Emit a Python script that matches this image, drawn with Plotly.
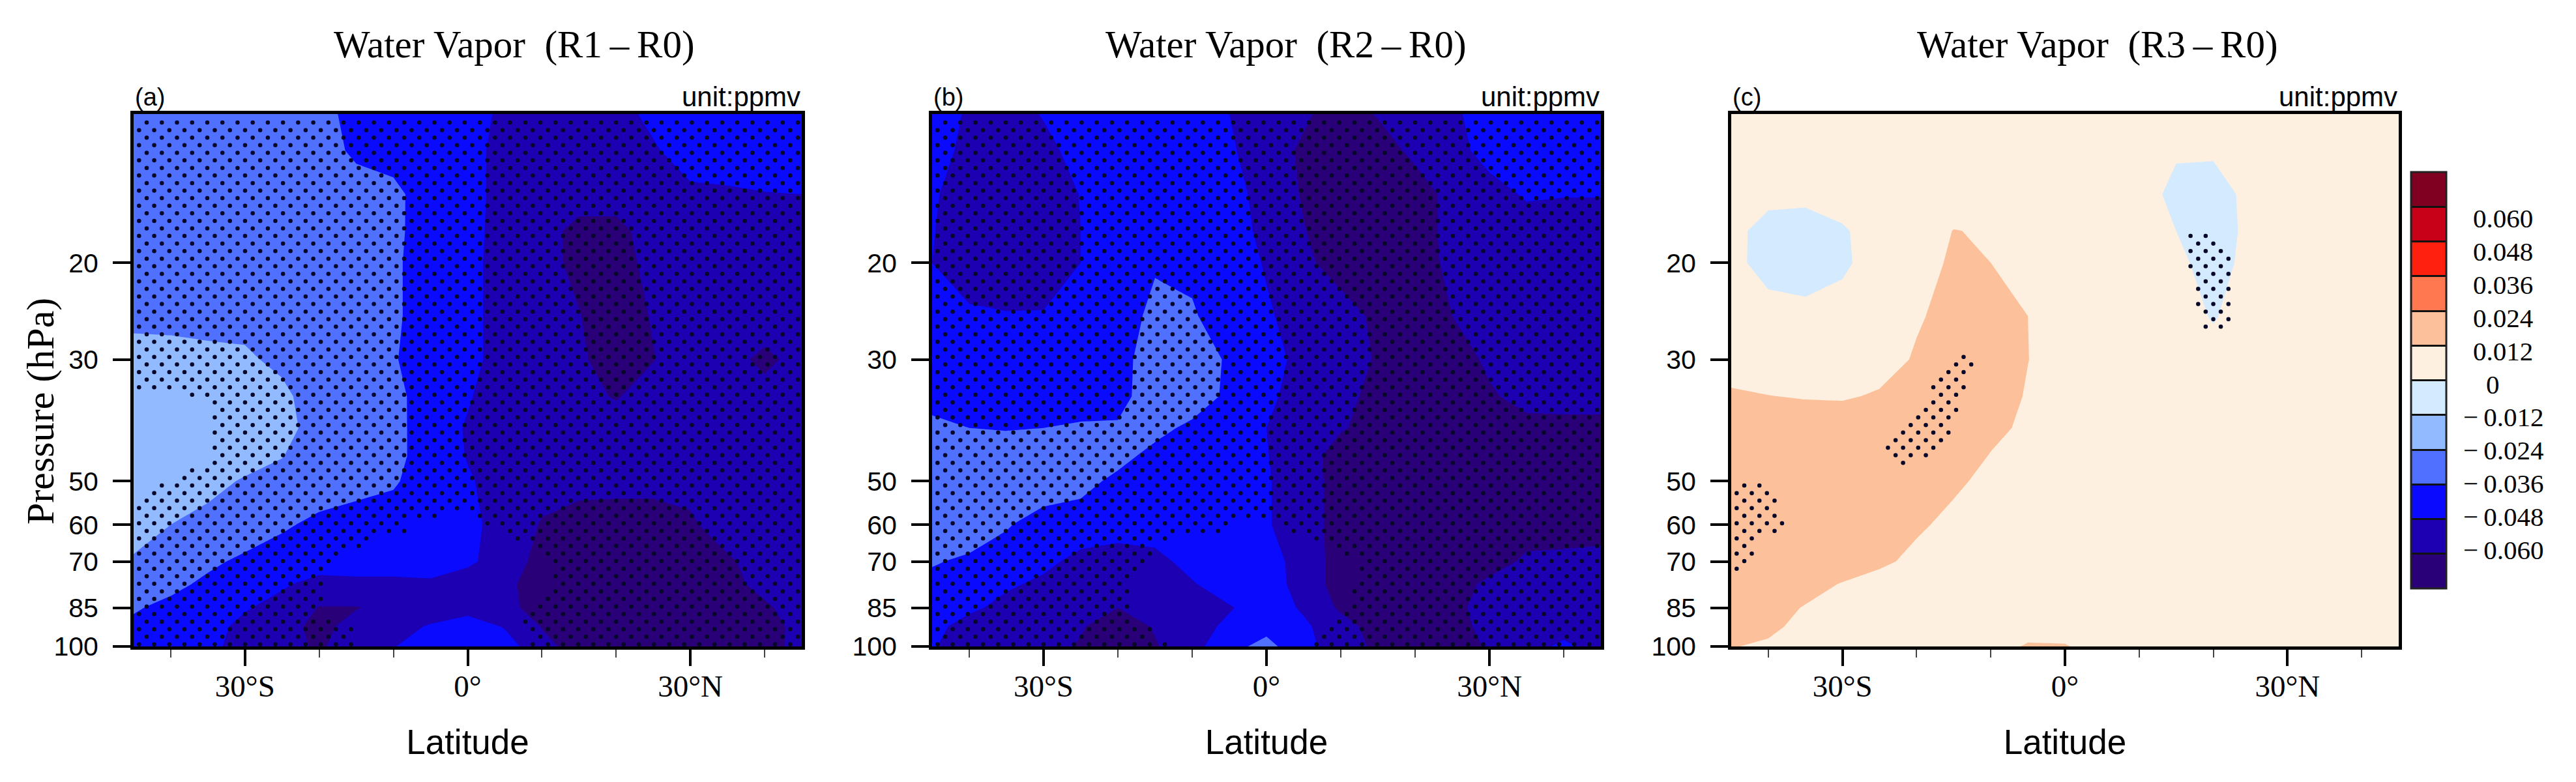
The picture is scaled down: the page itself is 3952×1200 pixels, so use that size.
import math
import numpy as np
import plotly.graph_objects as go

W, H = 3952, 1200

lat = [-45, -40, -35, -30, -25, -20, -15, -10, -5, 0, 5, 10, 15, 20, 25, 30, 35, 40, 45]
lev = [10.7, 12.5, 15, 17.5, 20, 25, 30, 35, 40, 45, 50, 60, 70, 77, 85, 92, 100]

# water vapor differences in 10^-3 ppmv, rows follow lev, columns follow lat
z_r1 = [
    [-30, -30, -30, -30, -30, -30, -42, -42, -42, -40, -52, -54, -54, -55, -43, -42, -42, -42, -42],
    [-30, -30, -30, -30, -30, -28, -39.4, -42, -44, -42, -54, -54, -54, -54, -50.4, -38.4, -40, -40, -40],
    [-28, -28, -28, -28, -28, -28, -28, -32.2, -44, -42, -54, -54, -54, -54, -54, -52, -50, -48.5, -48],
    [-28, -28, -28, -28, -28, -28, -28, -32.8, -43, -42.5, -54.5, -55, -64, -64, -54, -54, -54, -54, -54],
    [-28, -28, -28, -28, -28, -28, -28, -33, -45, -43, -55, -56, -63, -68, -54, -54, -54, -55, -55],
    [-28, -28, -28, -28, -28, -28, -28, -33, -45, -43, -55, -55, -59.5, -67, -59, -54, -54, -50, -54],
    [-18, -19, -21, -22, -27, -30, -30, -34.5, -46, -43, -55, -55, -57, -69, -60.5, -54, -54, -64, -54],
    [-16, -16, -16, -16, -21, -31, -30, -32, -43, -47, -54, -54, -56, -61, -54, -54, -54, -54, -54],
    [-14, -15, -16, -18, -20, -29, -30, -32.5, -42, -49, -54, -54, -54, -54, -54, -54, -54, -54, -54],
    [-14, -15, -17, -20, -23.5, -32, -30, -32.5, -42, -48.5, -54, -54, -54, -54, -54, -54, -54, -54, -54],
    [-16, -18, -21, -25, -29, -30, -31, -34.5, -43, -47, -52, -55, -56, -56, -56, -56, -55, -54, -54],
    [-20, -24, -27, -30, -34.5, -38.5, -42, -42, -42, -46, -51, -61, -65, -66, -66, -62, -53, -54, -54],
    [-25, -29, -34, -38, -41, -42, -42, -42, -42, -46.5, -52, -65, -68, -68, -68, -68, -62, -54, -54],
    [-30, -33.5, -38, -42, -46.5, -52, -51, -51, -50, -52, -57, -66, -68, -68, -68, -68, -64, -56, -54],
    [-35, -38.5, -42, -47, -52, -60.5, -60.5, -57, -54, -54, -56.5, -65, -68, -68, -68, -68, -68, -62, -54],
    [-38, -40, -44, -51, -56, -63, -56, -52, -47, -40, -49, -60.5, -68, -68, -68, -68, -68, -65, -56],
    [-42, -42, -46, -51, -55, -62, -52, -48.5, -42, -38, -42, -57, -64, -66, -66, -66, -66, -66, -55],
]
z_r2 = [
    [-40, -50, -54, -47, -42, -42, -42, -42, -48, -53, -58, -66, -59, -54, -51, -40, -38, -38, -38],
    [-42, -52, -56, -52, -43, -42, -42, -42, -46.5, -54, -62, -66, -66, -57, -53, -43, -40, -40, -40],
    [-46, -56, -58, -56, -47.5, -42, -42, -42, -43, -53, -61, -66, -66, -66, -56, -53, -46.5, -47.5, -47.5],
    [-47, -58, -58, -56, -48, -42, -40, -42, -42, -51.5, -59.5, -66, -68, -66, -56, -54, -54, -53, -53],
    [-48, -58, -58, -56, -48, -42, -37, -38, -42, -49, -58, -64, -66, -68, -56, -54, -54, -54, -54],
    [-43, -45, -47, -47, -45, -41, -33.5, -35, -41, -46.5, -53, -56, -62, -68, -60, -54, -54, -54, -54],
    [-42, -42, -42, -42, -42, -39.5, -31, -28, -38, -43, -52, -55, -61, -68, -68, -57, -54, -54, -54],
    [-39, -39, -40, -40, -40, -39, -31, -28, -39, -45.5, -53, -57, -63, -68, -68, -62, -55, -54, -54],
    [-34, -36, -37, -36, -35, -35, -32, -39, -42, -48, -52, -59, -64, -68, -68, -66, -64.5, -64.5, -64.5],
    [-28, -28, -27, -26, -27, -32, -40, -42, -42, -47.5, -55, -65, -68, -68, -68, -68, -68, -68, -68],
    [-27, -28, -28, -29, -32, -39, -42, -42, -42, -47, -54, -65, -68, -68, -68, -68, -68, -68, -68],
    [-28, -29, -35, -41, -42, -42, -42, -42, -42, -47, -54, -65, -68, -68, -68, -68, -68, -68, -68],
    [-35, -38, -41, -45.5, -51, -54, -51.5, -44, -42, -43, -53, -65, -68, -68, -68, -68, -57, -56, -54],
    [-39, -41, -46.5, -50, -54, -54, -52, -49, -42, -42, -53, -65, -68, -68, -68, -56, -54, -54, -54],
    [-42, -46, -51, -54, -56, -60, -57, -54, -49, -42, -49.5, -62, -68, -68, -64, -54, -54, -54, -54],
    [-45, -52, -54, -56, -59, -66, -59, -53, -45.5, -40, -46, -55, -65, -68, -66, -55, -54, -52, -54],
    [-47, -54, -55, -56, -61, -66, -61, -52, -40, -32, -45, -53, -63, -68, -68, -58, -52, -46, -52],
]
z_r3 = [
    [6, 6, 6, 6, 6, 6, 6, 6, 6, 6, 6, 6, 6, 6, 6, 6, 6, 6, 6],
    [6, 6, 6, 6, 6, 6, 6, 6, 6, 6, 6, 8, 2.5, 2.5, 6, 6, 6, 6, 6],
    [6, 4, 4, 4, 6, 6, 6, 6, 6, 6, 6, 10, -6, -8, 5, 6, 6, 6, 6],
    [4, -5, -7, -1, 4, 6, 12.3, 11, 6, 6, 6, 8, 0, -8, 4, 6, 6, 6, 6],
    [3, -4, -6, -1.5, 4, 8, 13.5, 12, 7, 6, 6, 7, 3.5, -6, 4.5, 6, 6, 6, 6],
    [6, 4, 3.4, 3.4, 6, 11, 15, 15, 12, 6, 6, 6, 6, -1, 6, 6, 6, 6, 6],
    [6, 6, 6, 7, 8, 13, 18, 18, 12.2, 6, 6, 6, 6, 4.4, 6, 6, 6, 6, 6],
    [13.8, 12.2, 11.3, 11, 13, 15, 20, 18, 11, 6, 6, 6, 6, 6, 6, 6, 6, 6, 6],
    [18, 18, 18, 18, 18, 18, 18, 14.6, 10, 6, 6, 6, 6, 6, 6, 6, 6, 6, 6],
    [18, 18, 18, 18, 18, 18, 17, 11.5, 8, 6, 6, 6, 6, 6, 6, 6, 6, 6, 6],
    [18, 18, 18, 18, 18, 17, 13.7, 9.5, 7, 6, 6, 6, 6, 6, 6, 6, 6, 6, 6],
    [18, 18, 18, 18, 17, 13.5, 9.5, 7, 6, 6, 6, 6, 6, 6, 6, 6, 6, 6, 6],
    [18, 18, 18, 17, 14, 9.5, 7, 6, 6, 6, 6, 6, 6, 6, 6, 6, 6, 6, 6],
    [18, 17, 15, 11.5, 8, 6, 6, 6, 6, 6, 6, 6, 6, 6, 6, 6, 6, 6, 6],
    [17, 15, 11.5, 8, 6, 6, 6, 6, 6, 6, 6, 6, 6, 6, 6, 6, 6, 6, 6],
    [16, 13.5, 10, 7, 6, 6, 6, 6, 6, 6, 6, 6, 6, 6, 6, 6, 6, 6, 6],
    [12.3, 11, 8, 6, 6, 6, 6, 6, 13.5, 13, 6, 6, 6, 6, 6, 6, 6, 6, 6],
]

levels = [-0.060, -0.048, -0.036, -0.024, -0.012, 0, 0.012, 0.024, 0.036, 0.048, 0.060]
band_colors = ["#290077", "#1c00b2", "#0a0aff", "#5070ff", "#92bbff", "#d4eaff",
               "#fdf0e0", "#fcc09a", "#ff7850", "#ff2010", "#c80018", "#800022"]
level_labels = ["0.060", "0.048", "0.036", "0.024", "0.012", "0",
                "\u2212\u20090.012", "\u2212\u20090.024", "\u2212\u20090.036", "\u2212\u20090.048", "\u2212\u20090.060"]

# stippling: outlines (lat, hPa) of the areas without significance in R1, R2 ...
hole_r1 = [
    [(-46, 34.5), (-39.1, 34.7), (-35.6, 35.3), (-35.1, 36.9), (-34.7, 40.3), (-34.9, 45), (-36.7, 47.3),
     (-39.7, 49.3), (-42.4, 50.9), (-44.4, 55.2), (-46, 57)],
    [(-1, 57), (-7.4, 59.2), (-8.5, 62), (-13.6, 63.4), (-14.4, 65.6), (-17.6, 67.8), (-19.4, 72.2), (-19.7, 85),
     (-20.2, 88.7), (-15, 93.3), (-15, 101), (8.4, 101), (7.2, 90), (9, 85), (10.8, 78), (11.6, 70), (7.9, 64.7),
     (3.7, 61.3), (-0.4, 57.5)],
]
hole_r2 = [
    [(-2.2, 58.7), (-4.5, 60.2), (-5.1, 62.5), (-10.4, 62.8), (-14.5, 64.5), (-15.4, 69.1), (-16.5, 71),
     (-18.5, 75), (-18.5, 88.4), (-15, 92.4), (-14.7, 96.8), (-10.4, 101), (5.4, 101), (6.6, 94), (9, 90),
     (10.7, 83.7), (11.6, 77.8), (12.2, 70.3), (9, 66.5), (6.6, 64.2), (4.2, 62.5), (0.7, 59.2)],
]
# ... and of the only significant areas in R3
sig_r3 = [
    [(-46, 49.5), (-42.3, 49.7), (-38.9, 52.6), (-37.7, 61.6), (-41.1, 63.5), (-43.2, 72.5), (-46, 72.5)],
    [(-13.9, 28.2), (-12.2, 29.3), (-12.7, 31.5), (-13.5, 34.7), (-15.8, 41.8), (-16.9, 44.5), (-20.7, 46.7),
     (-23.2, 46.7), (-25.2, 43.2), (-23.7, 40.6), (-20.7, 37.2), (-18.4, 34.7), (-16.9, 31.5), (-15, 29.3)],
    [(16.2, 18), (17.3, 17.4), (20.5, 17.4), (20.6, 18.8), (22.5, 19.7), (22.5, 23.2), (23.5, 23.6), (23.5, 24.2),
     (22.5, 24.8), (22.5, 26.5), (19.3, 26.5), (18.2, 25.5), (18.2, 24), (17.2, 23.4), (17.2, 20.7), (16.2, 20.2)],
]

panel_titles = ["Water Vapor\u00a0\u00a0(R1\u2009\u2013\u2009R0)", "Water Vapor\u00a0\u00a0(R2\u2009\u2013\u2009R0)",
                "Water Vapor\u00a0\u00a0(R3\u2009\u2013\u2009R0)"]
panel_tags = ["(a)", "(b)", "(c)"]
pressure_ticks = [20, 30, 50, 60, 70, 85, 100]
lat_ticks = [-30, 0, 30]
lat_tick_labels = ["30\u00b0S", "0\u00b0", "30\u00b0N"]
lat_minor = [-40, -30, -20, -10, 0, 10, 20, 30, 40]

SERIF = "Liberation Serif"
SANS = "Liberation Sans"
TOP_P = 10.7


def inside(px, py, poly):
    """Ray casting in (lat, log p)."""
    hit = False
    n = len(poly)
    for i in range(n):
        x1, y1 = poly[i][0], math.log10(poly[i][1])
        x2, y2 = poly[(i + 1) % n][0], math.log10(poly[(i + 1) % n][1])
        if (y1 > py) != (y2 > py) and px < x1 + (py - y1) * (x2 - x1) / (y2 - y1):
            hit = not hit
    return hit


def stipple(regions, keep_inside):
    xs, ys = [], []
    for k in range(70):
        lg = 2 - (803.7 - 11.6 * k) / 842.0
        if lg > 2.0:
            break
        start = -43.24 if k % 2 == 0 else -44.27
        for j in range(45):
            x = start + 2.04 * j
            if x > 44.8:
                break
            found = any(inside(x, lg, r) for r in regions)
            if found == keep_inside:
                xs.append(x)
                ys.append(10 ** lg)
    return xs, ys


def scale(z):
    return (np.array(z, dtype=float) * 1e-3).tolist()


n = len(band_colors)
colorscale = [[i / (n - 1), c] for i, c in enumerate(band_colors)]
stepped = []
for i, c in enumerate(band_colors):
    stepped.append([i / n, c])
    stepped.append([(i + 1) / n, c])
contours = dict(start=levels[0], end=levels[-1], size=0.012, coloring="fill", showlines=False)

domains_x = [(205, 1230), (1430, 2456), (2656, 3680)]
ax_names = [("x", "y"), ("x2", "y2"), ("x3", "y3")]
fields = [z_r1, z_r2, z_r3]
stips = [stipple(hole_r1, False), stipple(hole_r2, False), stipple(sig_r3, True)]

fig = go.Figure()
layout = dict(
    width=W, height=H, autosize=False, paper_bgcolor="white", plot_bgcolor="white",
    margin=dict(l=0, r=0, t=0, b=0, autoexpand=False), showlegend=False,
)
annotations = []

for i in range(3):
    xa, ya = ax_names[i]
    fig.add_trace(go.Contour(
        x=lat, y=lev, z=scale(fields[i]), xaxis=xa, yaxis=ya, contours=contours,
        colorscale=colorscale, zmin=levels[0] - 0.006, zmax=levels[-1] + 0.006, zauto=False,
        line=dict(width=0, smoothing=0), showscale=False, hoverinfo="skip",
    ))
    fig.add_trace(go.Scatter(
        x=stips[i][0], y=stips[i][1], xaxis=xa, yaxis=ya, mode="markers",
        marker=dict(size=6.5, color="#07072a"), hoverinfo="skip",
    ))
    x0, x1 = domains_x[i]
    suffix = "" if i == 0 else str(i + 1)
    layout["xaxis" + suffix] = dict(
        domain=[x0 / W, x1 / W], range=[-45, 45], anchor=ya, tickmode="array", automargin=False,
        tickvals=lat_ticks, ticktext=lat_tick_labels, ticks="outside", ticklen=25, tickwidth=4,
        tickcolor="black", showline=True, mirror=True, linecolor="black", linewidth=5, showgrid=False,
        zeroline=False, tickfont=dict(family=SERIF, size=47, color="black"), ticklabelstandoff=-9,
        minor=dict(tickmode="array", tickvals=lat_minor, ticks="outside", ticklen=12, tickwidth=2,
                   tickcolor="#444444", showgrid=False),
        title=dict(text="Latitude", font=dict(family=SANS, size=53, color="black"), standoff=43),
    )
    layout["yaxis" + suffix] = dict(
        domain=[1 - 992 / H, 1 - 174.5 / H], type="log", range=[2, math.log10(TOP_P)], anchor=xa,
        tickmode="array", tickvals=pressure_ticks, ticktext=[str(t) for t in pressure_ticks], automargin=False,
        ticks="outside", ticklen=27, tickwidth=4, tickcolor="black", showline=True, mirror=True,
        linecolor="black", linewidth=5, showgrid=False, zeroline=False,
        tickfont=dict(family=SANS, size=41, color="black"), ticklabelstandoff=14,
    )
    annotations.append(dict(text=panel_tags[i], x=x0 / W, y=1 - 149 / H, xref="paper", yref="paper",
                            xanchor="left", yanchor="middle", showarrow=False,
                            font=dict(family=SANS, size=38, color="black")))
    annotations.append(dict(text="unit:ppmv", x=x1 / W, y=1 - 149 / H, xref="paper", yref="paper",
                            xanchor="right", yanchor="middle", showarrow=False,
                            font=dict(family=SANS, size=42, color="black")))

title_x = [789, 1973, 3218]
for t, x in zip(panel_titles, title_x):
    annotations.append(dict(text=t, x=x / W, y=1 - 68 / H, xref="paper", yref="paper", xanchor="center",
                            yanchor="middle", showarrow=False, font=dict(family=SERIF, size=59, color="black")))

annotations.append(dict(text="Pressure (hPa)", x=62 / W, y=1 - 631 / H, xref="paper", yref="paper",
                        textangle=-90, xanchor="center", yanchor="middle", showarrow=False,
                        font=dict(family=SERIF, size=60, color="black")))

# colour key: a heatmap whose cells lie outside the axis range, only its colour bar shows
key_band_edge = 0.072
fig.add_trace(go.Heatmap(
    x=[200, 201], y=[20, 30], z=[[-key_band_edge, key_band_edge], [-key_band_edge, key_band_edge]],
    xaxis="x3", yaxis="y3", colorscale=stepped, zmin=-key_band_edge, zmax=key_band_edge, zauto=False,
    hoverinfo="skip", showscale=True,
    colorbar=dict(x=3699 / W, xanchor="left", xpad=0, ypad=0, y=1 - 583.5 / H, yanchor="middle",
                  lenmode="pixels", len=639, thicknessmode="pixels", thickness=54,
                  outlinecolor="#222222", outlinewidth=3, tickmode="array", tickvals=levels,
                  ticks="inside", ticklen=54, tickwidth=3, tickcolor="#111111", showticklabels=False),
))

for k, lab in enumerate(level_labels):
    left = 3792 if not lab.startswith("\u2212") else 3777
    if lab == "0":
        left = 3812
    annotations.append(dict(text=lab, x=left / W, y=1 - (335 + 50.9 * k) / H, xref="paper", yref="paper",
                            xanchor="left", yanchor="middle", showarrow=False,
                            font=dict(family=SERIF, size=41, color="black")))

layout["annotations"] = annotations
fig.update_layout(**layout)
fig.write_html("out.html", config={"displayModeBar": False}, post_script="document.body.style.margin='0';")
